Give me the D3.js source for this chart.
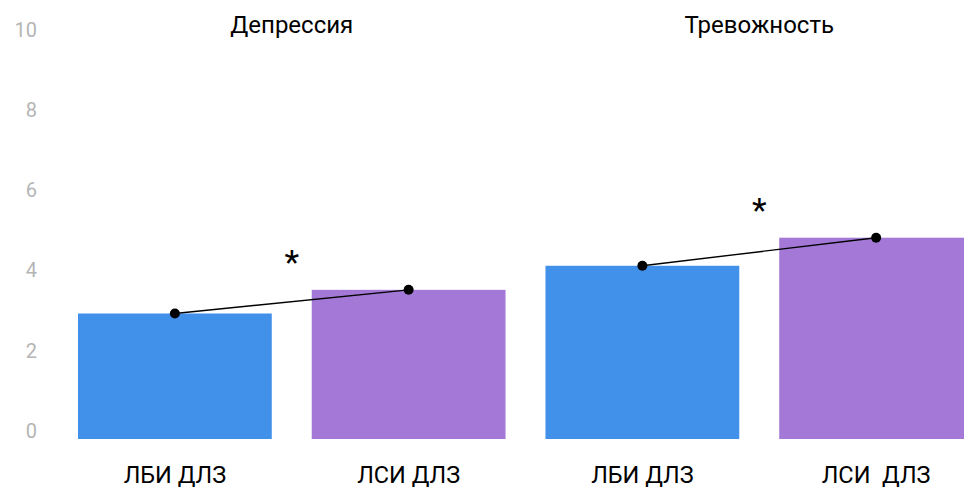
<!DOCTYPE html>
<html>
<head>
<meta charset="utf-8">
<script src="https://cdn.jsdelivr.net/npm/d3@7/dist/d3.min.js"></script>
<style>
  html, body { margin: 0; padding: 0; background: #fff; overflow: hidden; }
  text { font-family: Roboto, "Noto Sans", sans-serif; }
</style>
</head>
<body>
<svg id="chart" width="964" height="489"></svg>
<script>
// ---- data ----
const groups = ["Депрессия", "Тревожность"];
const categories = ["ЛБИ ДЛЗ", "ЛСИ ДЛЗ", "ЛБИ ДЛЗ", "ЛСИ  ДЛЗ"];
const groupOfBar = [0, 0, 1, 1];
const values = [2.93, 3.52, 4.12, 4.82];
const barColors = ["#4190ea", "#a378d7", "#4190ea", "#a378d7"];
const significance = ["*", "*"];
const yTicks = [0, 2, 4, 6, 8, 10];

// ---- layout ----
const svg = d3.select("#chart");

const x = d3.scaleBand()
  .domain(d3.range(categories.length))
  .range([58, 993])
  .paddingInner(0.171)
  .paddingOuter(0.0855);

const y = d3.scaleLinear()
  .domain([-0.2, 10])
  .range([439, 30]);

// y axis labels
const yAxis = d3.axisLeft(y).tickValues(yTicks).tickSize(0).tickPadding(0);
const ya = svg.append("g").attr("transform", "translate(37,0)").call(yAxis);
ya.select(".domain").remove();
ya.selectAll("text")
  .attr("fill", "#b5b5b5")
  .style("font-size", "20px")
  .style("font-family", "Roboto, sans-serif");

// bars
svg.append("g").selectAll("rect")
  .data(values)
  .join("rect")
  .attr("x", (d, i) => x(i))
  .attr("width", x.bandwidth())
  .attr("y", d => y(d))
  .attr("height", d => y(-0.2) - y(d))
  .attr("fill", (d, i) => barColors[i]);

// category labels
const xAxis = d3.axisBottom(x).tickFormat(i => categories[i]).tickSize(0).tickPadding(0);
const xa = svg.append("g").attr("transform", "translate(0,483)").call(xAxis);
xa.select(".domain").remove();
xa.selectAll("text")
  .attr("fill", "#000")
  .attr("dy", "0")
  .style("font-size", "23.5px")
  .style("font-family", "Roboto, sans-serif")
  .style("white-space", "pre");

// groups: titles, connecting lines, dots, asterisks
groups.forEach((g, gi) => {
  const idx = d3.range(values.length).filter(i => groupOfBar[i] === gi);
  const cx = i => x(i) + x.bandwidth() / 2;
  const x0 = x(idx[0]);
  const x1 = x(idx[idx.length - 1]) + x.bandwidth();
  const mid = (x0 + x1) / 2;

  svg.append("text")
    .attr("x", mid)
    .attr("y", 33)
    .attr("text-anchor", "middle")
    .attr("fill", "#000")
    .style("font-size", "24px")
    .text(g);

  const line = d3.line().x(i => cx(i)).y(i => y(values[i]));
  svg.append("path")
    .attr("d", line(idx))
    .attr("fill", "none")
    .attr("stroke", "#000")
    .attr("stroke-width", 1.4);

  svg.append("g").selectAll("circle")
    .data(idx)
    .join("circle")
    .attr("cx", i => cx(i))
    .attr("cy", i => y(values[i]))
    .attr("r", 5)
    .attr("fill", "#000");

  const maxV = d3.max(idx, i => values[i]);
  svg.append("text")
    .attr("x", mid)
    .attr("y", y(maxV) - 28)
    .attr("text-anchor", "middle")
    .attr("dominant-baseline", "central")
    .attr("fill", "#000")
    .style("font-size", "34px")
    .text(significance[gi]);
});
</script>
</body>
</html>
